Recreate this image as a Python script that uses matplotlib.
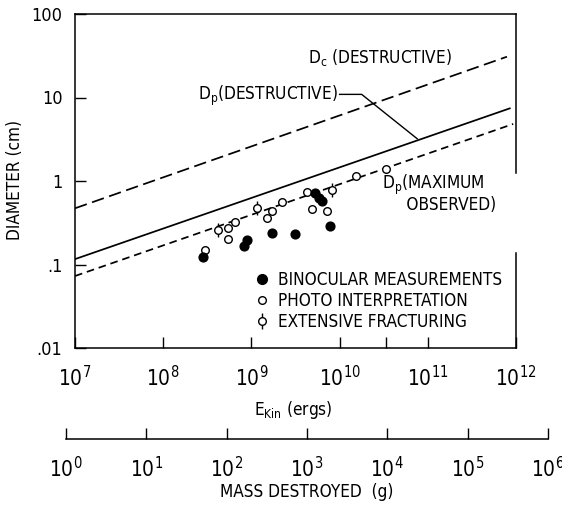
import numpy as np
import matplotlib
matplotlib.use("Agg")
import matplotlib.pyplot as plt
from matplotlib import font_manager
from matplotlib.ticker import FixedLocator, FixedFormatter, NullLocator

# look for a narrow face, the original lettering is condensed
cands = [f for f in font_manager.fontManager.ttflist
         if ('Narrow' in f.name or 'Condensed' in f.name
             or f.stretch in ('condensed', 'semi-condensed', 'extra-condensed'))
         and f.style == 'normal' and f.weight in (400, 'normal', 'regular')]
if cands:
    narrow, stretch = cands[0].name, cands[0].stretch
else:
    narrow, stretch = 'DejaVu Sans', 'normal'
plt.rcParams['font.family'] = [narrow, 'DejaVu Sans']
plt.rcParams['font.stretch'] = stretch
plt.rcParams['lines.scale_dashes'] = False

# points (E_kin in ergs, diameter in cm)
binoc_E = [2.82e8, 8.24e8, 8.92e8, 1.71e9, 3.12e9, 5.26e9, 5.83e9, 6.31e9, 7.78e9]
binoc_D = [0.123, 0.167, 0.196, 0.238, 0.232, 0.718, 0.625, 0.575, 0.289]

photo_E = [2.98e8, 5.43e8, 5.43e8, 6.52e8, 1.50e9, 1.71e9, 2.22e9, 4.27e9,
           4.86e9, 7.19e9, 1.53e10, 3.36e10]
photo_D = [0.149, 0.202, 0.273, 0.323, 0.360, 0.437, 0.561, 0.738,
           0.462, 0.437, 1.15, 1.39]

fract_E = [4.18e8, 1.16e9, 8.2e9]
fract_D = [0.259, 0.475, 0.780]

# the three boundary lines (end points)
dc_E = [1e7, 7.9e11]
dc_D = [0.471, 30.8]
dp_E = [1e7, 8.5e11]
dp_D = [0.116, 7.41]
dpmax_E = [1e7, 9.3e11]
dpmax_D = [0.0728, 4.82]

# leader from "Dp (DESTRUCTIVE)" label to its line
leader_E = [1.0e10, 1.78e10, 7.6e10]
leader_D = [10.9, 10.9, 3.2]

E_decades = [1e7, 1e8, 1e9, 1e10, 1e11, 1e12]
E_labels = [r'$\mathregular{10^{%d}}$' % i for i in range(7, 13)]
D_ticks = [0.01, 0.1, 1, 10, 100]
D_labels = ['.01', '.1', '1', '10', '100']
mass_decades = [1e0, 1e1, 1e2, 1e3, 1e4, 1e5, 1e6]
mass_labels = [r'$\mathregular{10^{%d}}$' % i for i in range(7)]

fs = 12.3
fig = plt.figure(figsize=(5.62, 5.05), dpi=100)
ax = fig.add_axes([75 / 562, 1 - 348 / 505, 441 / 562, 334 / 505])
ax.set_xscale('log')
ax.set_yscale('log')
ax.set_xlim(1e7, 1e12)
ax.set_ylim(0.01, 100)

lw = 1.25
ax.plot(dc_E, dc_D, color='black', lw=lw, dashes=(9, 4), zorder=2)
ax.plot(dp_E, dp_D, color='black', lw=lw, zorder=2)
ax.plot(dpmax_E, dpmax_D, color='black', lw=lw, dashes=(5.5, 3.5), zorder=2)
ax.plot(leader_E, leader_D, color='black', lw=1.0, zorder=2)

ax.scatter(binoc_E, binoc_D, s=40, color='black', zorder=4)
ax.scatter(photo_E, photo_D, s=30, facecolor='white', edgecolor='black',
           linewidths=1.0, zorder=3)
ax.scatter(fract_E, fract_D, s=100, marker='|', color='black', linewidths=1.0, zorder=3)
ax.scatter(fract_E, fract_D, s=30, facecolor='white', edgecolor='black',
           linewidths=1.0, zorder=3.5)

ax.text(4.4e9, 25.9, r'$\mathregular{D_c}$ (DESTRUCTIVE)', fontsize=fs)
ax.text(2.48e8, 9.3, r'$\mathregular{D_p}$(DESTRUCTIVE)', fontsize=fs)
ax.text(3.0e10, 0.45, r'$\mathregular{D_p}$(MAXIMUM' + '\n' + '     OBSERVED)',
        fontsize=fs, linespacing=0.95, va='baseline')

# legend handles
fr_tick = plt.Line2D([], [], marker='|', markersize=11, color='black', ls='none',
                     markeredgewidth=1.0)
fr_circ = plt.Line2D([], [], marker='o', markersize=5.5, markerfacecolor='white',
                     markeredgecolor='black', ls='none', markeredgewidth=1.0)
bh = plt.Line2D([], [], marker='o', markersize=7, color='black', ls='none')
ph = plt.Line2D([], [], marker='o', markersize=5.5, markerfacecolor='white',
                markeredgecolor='black', ls='none', markeredgewidth=1.0)
ax.legend([bh, ph, (fr_tick, fr_circ)],
          ['BINOCULAR MEASUREMENTS', 'PHOTO INTERPRETATION', 'EXTENSIVE FRACTURING'],
          loc='upper left', bbox_to_anchor=(0.405, 0.232), frameon=False,
          fontsize=fs, handlelength=1.0, handletextpad=0.45, labelspacing=0.18,
          borderpad=0, borderaxespad=0)

ax.xaxis.set_major_locator(FixedLocator(E_decades))
ax.xaxis.set_major_formatter(FixedFormatter(E_labels))
ax.xaxis.set_minor_locator(FixedLocator([3.4e10]))
ax.yaxis.set_major_locator(FixedLocator(D_ticks))
ax.yaxis.set_major_formatter(FixedFormatter(D_labels))
ax.yaxis.set_minor_locator(NullLocator())
ax.tick_params(axis='x', which='major', direction='in', length=8, width=1.0,
               labelsize=15, pad=12)
ax.tick_params(axis='x', which='minor', direction='in', length=8, width=1.0)
ax.tick_params(axis='y', direction='in', length=8, width=1.0, labelsize=13, pad=9)
for s in ax.spines.values():
    s.set_linewidth(1.1)
# right frame line has a gap in the original
ax.spines['right'].set_bounds(0.01, 10 ** (2 - 4 * (1 - 0.284)))
ax.axvline(1e12, ymin=0.524, ymax=1, color='black', lw=1.1, clip_on=False)

fig.text(15 / 562, 1 - 180 / 505, 'DIAMETER (cm)', rotation=90, ha='center',
         va='center', fontsize=fs)
fig.text(293 / 562, 1 - 410 / 505, r'$\mathregular{E_{Kin}}$ (ergs)', ha='center',
         va='center', fontsize=fs)

# second scale: mass destroyed
ax2 = fig.add_axes([66 / 562, 1 - 439 / 505, 482 / 562, 0.001])
ax2.set_xscale('log')
ax2.set_xlim(1, 1e6)
for k in ['top', 'left', 'right']:
    ax2.spines[k].set_visible(False)
ax2.spines['bottom'].set_linewidth(1.1)
ax2.set_yticks([])
ax2.xaxis.set_major_locator(FixedLocator(mass_decades))
ax2.xaxis.set_major_formatter(FixedFormatter(mass_labels))
ax2.xaxis.set_minor_locator(NullLocator())
ax2.tick_params(axis='x', direction='in', length=8, width=1.0, labelsize=15, pad=12)
ax2.patch.set_visible(False)

fig.text(307 / 562, 1 - 492 / 505, 'MASS DESTROYED  (g)', ha='center', va='center',
         fontsize=fs)

fig.savefig('out.png', dpi=100)
